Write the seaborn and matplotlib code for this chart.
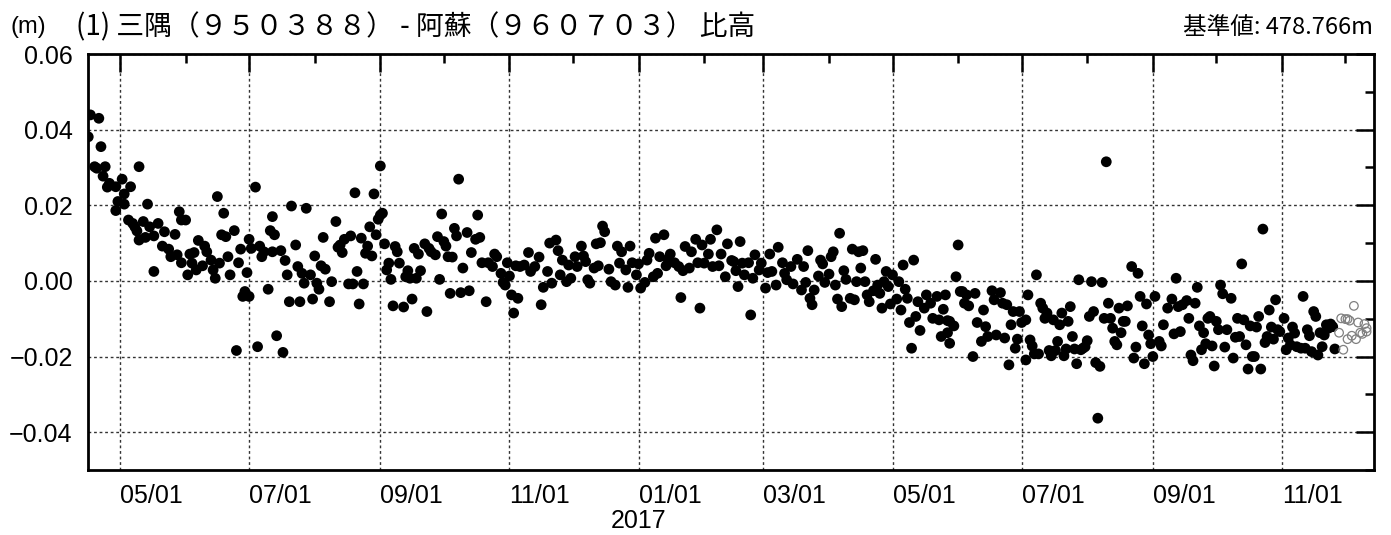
import numpy as np
import pandas as pd
import matplotlib
matplotlib.use("Agg")
import matplotlib.pyplot as plt
from matplotlib.ticker import MultipleLocator, FuncFormatter
from matplotlib.transforms import blended_transform_factory
import seaborn as sns

# ---------------- data ----------------
START = "2016-04-16"          # day 0 of the series

# daily solutions (filled dots): day offset from START, value in metres
filled_day = [
    0, 1, 5, 6, 3, 4, 8, 7, 10, 9, 13, 16, 17, 20, 24, 14, 17, 13, 28, 19,
    21, 22, 26, 23, 24, 27, 29, 31, 33, 31, 35, 36, 38, 39, 41, 42, 43, 44, 46, 44,
    47, 48, 50, 49, 52, 51, 54, 55, 56, 58, 59, 60, 61, 62, 64, 63, 65, 66, 67, 69,
    70, 71, 72, 73, 74, 75, 76, 76, 77, 79, 80, 81, 82, 83, 85, 86, 87, 88, 87, 89,
    91, 92, 93, 94, 95, 96, 98, 99, 100, 101, 102, 103,
    105, 106, 107, 108, 109, 110, 111, 112, 114, 115, 117, 118, 119, 120, 121, 123, 124, 125, 126, 127,
    128, 129, 130, 131, 132, 133, 134, 135, 136, 137, 138, 138, 139, 140, 141, 142, 143, 144, 145, 146,
    147, 149, 150, 151, 152, 153, 154, 155, 156, 157, 159, 160, 161, 162, 164, 165, 166, 167, 168, 169,
    170, 171, 172, 173, 174, 175, 176, 177, 179, 180, 181, 183, 184, 185, 186, 188, 189, 191, 192, 193,
    195, 196, 197, 198, 199, 200, 201, 202, 203,
    204, 206, 208, 209, 211, 213, 214, 215, 217, 218, 219, 221, 222, 223, 224, 226, 227, 228, 230, 231,
    233, 234, 235, 236, 237, 239, 240, 241, 242, 243, 244, 246, 247, 249, 250, 251, 252, 254, 255, 256,
    257, 259, 260, 261, 263, 264, 265, 267, 268, 269, 270, 272, 273, 274, 275, 277, 279, 280, 281, 282,
    284, 285, 287, 288, 289, 290, 291, 293, 294, 295, 297, 298, 299, 301, 302, 304,
    305, 306, 307, 308, 309, 310, 312, 313, 314, 315, 317, 318, 320, 321, 322, 323, 325, 326, 328, 329,
    330, 332, 333, 335, 337, 338, 339, 340, 341, 342, 343, 345, 346, 347, 348, 350, 351, 352, 353, 354,
    355, 356, 357, 358, 360, 361, 362, 363, 364, 365, 366, 367, 368, 369, 371, 372, 373, 374, 375, 376,
    377, 378, 379, 380, 382, 383, 384, 385, 386, 387, 388, 389, 390, 391, 392, 393, 395, 396, 398, 399,
    401, 402, 403, 404, 405, 406, 407,
    407, 406, 409, 410, 411, 412, 413, 414, 415, 416, 418, 419, 420, 422, 423, 424, 425, 427, 428, 429,
    431, 432, 433, 434, 435, 436, 437, 438, 439, 440, 441, 443, 443, 444, 445, 446, 447, 448, 449, 450,
    451, 452, 453, 454, 455, 456, 457, 458, 459, 460, 461, 462, 463, 464, 465, 466, 467, 468, 469, 470,
    471, 472, 473, 474, 475, 476, 477, 478, 479, 480, 481, 482, 483, 484, 485, 486, 487, 488, 489, 490,
    491, 493, 494, 495, 496, 497, 498, 499, 500, 501, 502, 503, 504, 506, 507, 508,
    510, 512, 513, 514, 515, 516, 517, 519, 520, 521, 522, 523, 524, 525, 526, 527, 528, 529, 530, 531,
    532, 533, 534, 535, 536, 537, 538, 540, 541, 542, 543, 544, 545, 546, 547, 548, 549, 550, 551, 552,
    553, 554, 555, 556, 557, 558, 559, 560, 561, 562, 563, 565, 566, 567, 568, 569, 570, 571, 573, 574,
    575, 576, 577, 578, 579, 580, 581, 582, 583, 584, 585, 586, 587, 588, 589,
]
filled_val = [
    0.0381, 0.0439, 0.0430, 0.0355, 0.0302, 0.0298, 0.0302, 0.0277, 0.0258, 0.0248,
    0.0249, 0.0269, 0.0230, 0.0249, 0.0302, 0.0210, 0.0203, 0.0186, 0.0203, 0.0161,
    0.0152, 0.0143, 0.0157, 0.0132, 0.0108, 0.0115, 0.0143, 0.0119, 0.0152, 0.0025,
    0.0092, 0.0130, 0.0084, 0.0064, 0.0123, 0.0069, 0.0183, 0.0161, 0.0161, 0.0048,
    0.0016, 0.0071, 0.0075, 0.0047, 0.0107, 0.0029, 0.0040, 0.0092, 0.0077, 0.0055,
    0.0029, 0.0007, 0.0223, 0.0047, 0.0179, 0.0122, 0.0117, 0.0064, 0.0016, 0.0133,
    -0.0184, 0.0048, 0.0084, -0.0041, -0.0028, 0.0022, 0.0110, -0.0041, 0.0086, 0.0248,
    -0.0174, 0.0092, 0.0064, 0.0077, -0.0022, 0.0133, 0.0170, 0.0122, 0.0077, -0.0145,
    0.0080, -0.0189, 0.0054, 0.0016, -0.0055, 0.0198, 0.0095, 0.0038, -0.0055, 0.0020,
    -0.0006, 0.0192,
    0.0016, -0.0048, 0.0066, -0.0006, -0.0022, 0.0040, 0.0115, 0.0031, -0.0055, -0.0002,
    0.0157, 0.0089, 0.0095, 0.0075, 0.0110, -0.0008, 0.0119, -0.0008, 0.0233, 0.0025,
    -0.0061, 0.0113, -0.0008, 0.0073, 0.0092, 0.0143, 0.0066, 0.0230, 0.0122, 0.0163,
    0.0304, 0.0174, 0.0179, 0.0098, 0.0029, 0.0047, 0.0004, -0.0066, 0.0091, 0.0077,
    0.0047, -0.0069, 0.0011, 0.0027, 0.0007, -0.0048, 0.0086, 0.0007, 0.0071, 0.0027,
    0.0098, -0.0081, 0.0086, 0.0077, 0.0069, 0.0117, 0.0004, 0.0177, 0.0104, 0.0092,
    0.0064, -0.0033, 0.0063, 0.0139, 0.0119, 0.0269, -0.0031, 0.0034, 0.0128, -0.0026,
    0.0075, 0.0110, 0.0174, 0.0115, 0.0048, -0.0055, 0.0048, 0.0038, 0.0071, 0.0064,
    0.0020, -0.0004, -0.0011, 0.0048, 0.0013, -0.0037, -0.0085, 0.0040, -0.0046,
    0.0038, 0.0042, 0.0075, 0.0025, 0.0038, 0.0063, -0.0063, -0.0017, 0.0025, 0.0100,
    -0.0006, 0.0108, 0.0080, 0.0016, 0.0055, -0.0002, 0.0042, 0.0007, 0.0064, 0.0038,
    0.0092, 0.0066, 0.0051, 0.0003, -0.0006, 0.0034, 0.0098, 0.0040, 0.0101, 0.0145,
    0.0130, 0.0031, -0.0002, -0.0011, 0.0092, 0.0047, 0.0077, 0.0029, -0.0017, 0.0092,
    0.0048, 0.0016, 0.0045, -0.0019, -0.0004, 0.0055, 0.0073, 0.0011, 0.0113, 0.0020,
    0.0064, 0.0122, 0.0040, 0.0057, 0.0071, 0.0048, 0.0038, -0.0044, 0.0027, 0.0091,
    0.0034, 0.0077, 0.0110, 0.0048, -0.0072, 0.0095, 0.0047, 0.0071, 0.0110, 0.0038,
    0.0135, 0.0040, 0.0071, 0.0011, 0.0098, 0.0054,
    0.0051, 0.0027, -0.0015, 0.0104, 0.0047, 0.0016, 0.0048, -0.0090, 0.0007, 0.0069,
    0.0029, 0.0047, -0.0019, 0.0022, 0.0071, 0.0025, -0.0011, 0.0089, 0.0048, 0.0020,
    0.0003, 0.0038, -0.0008, 0.0057, -0.0024, 0.0038, -0.0004, 0.0080, -0.0046, -0.0063,
    -0.0024, 0.0013, 0.0055, 0.0045, -0.0004, 0.0018, 0.0064, 0.0077, -0.0011, -0.0048,
    0.0126, -0.0068, 0.0027, 0.0004, -0.0046, 0.0084, -0.0050, -0.0002, 0.0077, 0.0034,
    0.0080, -0.0002, -0.0037, -0.0055, -0.0026, 0.0057, -0.0011, -0.0033, -0.0072, -0.0002,
    0.0025, -0.0015, -0.0061, 0.0016, -0.0048, -0.0002, -0.0077, 0.0042, -0.0022, -0.0046,
    -0.0110, -0.0178, 0.0055, -0.0094, -0.0055, -0.0131, -0.0072, -0.0037, -0.0059, -0.0099,
    -0.0041, -0.0103, -0.0147, -0.0075, -0.0037, -0.0105, -0.0165,
    -0.0107, -0.0137, -0.0119, 0.0011, 0.0095, -0.0028, -0.0028, -0.0059, -0.0037, -0.0066,
    -0.0200, -0.0033, -0.0110, -0.0160, -0.0077, -0.0121, -0.0147, -0.0026, -0.0050, -0.0143,
    -0.0031, -0.0059, -0.0151, -0.0063, -0.0222, -0.0116, -0.0081, -0.0178, -0.0154, -0.0081,
    -0.0110, -0.0103, -0.0209, -0.0037, -0.0156, -0.0172, -0.0193, 0.0016, -0.0193, -0.0059,
    -0.0072, -0.0099, -0.0085, -0.0184, -0.0198, -0.0103, -0.0184, -0.0160, -0.0116, -0.0085,
    -0.0198, -0.0180, -0.0107, -0.0068, -0.0147, -0.0180, -0.0219, 0.0003, -0.0182, -0.0178,
    -0.0174, -0.0158, -0.0094, -0.0002, -0.0081, -0.0216, -0.0363, -0.0226, -0.0004, -0.0099,
    0.0315, -0.0059, -0.0099, -0.0125, -0.0160, -0.0169, -0.0072, -0.0137, -0.0107, -0.0107,
    -0.0066, 0.0038, -0.0204, -0.0175, 0.0020, -0.0041, -0.0119, -0.0219, -0.0061, -0.0143,
    -0.0166, -0.0200, -0.0041, -0.0160, -0.0172, -0.0116,
    -0.0072, -0.0048, -0.0140, 0.0007, -0.0068, -0.0134, -0.0063, -0.0052, -0.0099, -0.0196,
    -0.0211, -0.0059, -0.0017, -0.0119, -0.0182, -0.0137, -0.0166, -0.0099, -0.0094, -0.0172,
    -0.0225, -0.0107, -0.0129, -0.0011, -0.0034, -0.0175, -0.0129, -0.0046, -0.0204, -0.0149,
    -0.0099, -0.0147, 0.0045, -0.0103, -0.0169, -0.0233, -0.0119, -0.0200, -0.0200, -0.0122,
    -0.0094, -0.0233, 0.0137, -0.0163, -0.0147, -0.0077, -0.0122, -0.0154, -0.0050, -0.0129,
    -0.0134, -0.0099, -0.0182, -0.0151, -0.0169, -0.0122, -0.0138, -0.0174, -0.0178, -0.0041,
    -0.0178, -0.0129, -0.0145, -0.0187, -0.0081, -0.0094, -0.0196, -0.0137, -0.0174, -0.0143,
    -0.0116, -0.0125, -0.0114, -0.0121, -0.0180,
]

# rapid / preliminary solutions (open grey circles)
open_day = [591, 592, 593, 594, 595, 595, 596, 597, 598, 599, 600, 601, 602, 603, 604, 604]
open_val = [-0.0137, -0.0099, -0.0182, -0.0101, -0.0101, -0.0154, -0.0105, -0.0145,
            -0.0066, -0.0154, -0.0110, -0.0137, -0.0140, -0.0114, -0.0125, -0.0134]

x_tick_dates = ["2016-05-01", "2016-07-01", "2016-09-01", "2016-11-01", "2017-01-01",
                "2017-03-01", "2017-05-01", "2017-07-01", "2017-09-01", "2017-11-01"]
x_tick_labels = ["05/01", "07/01", "09/01", "11/01", "01/01",
                 "03/01", "05/01", "07/01", "09/01", "11/01"]
year_label = "2017"
year_label_date = "2017-01-01"
x_limits = ("2016-04-15 21:00", "2017-12-14 12:00")
y_limits = (-0.05, 0.06)

unit_text = "(m)"
title_text = "(1) 三隅（９５０３８８） - 阿蘇（９６０７０３） 比高"
ref_text = "基準値: 478.766m"

# ---------------- plotting ----------------
sns.set_theme(style="white")
plt.rcParams["font.family"] = ["Liberation Sans", "DejaVu Sans"]
plt.rcParams["axes.unicode_minus"] = True
CJK = ["Noto Sans CJK JP", "DejaVu Sans"]

W, H = 1391, 535
fig = plt.figure(figsize=(W / 100, H / 100), dpi=100)
ax = fig.add_axes([88 / W, 1 - 470 / H, (1374 - 88) / W, (470 - 54) / H])

start = pd.Timestamp(START)
df_f = pd.DataFrame({"date": start + pd.to_timedelta(filled_day, unit="D"),
                     "value": filled_val})
df_o = pd.DataFrame({"date": start + pd.to_timedelta(open_day, unit="D"),
                     "value": open_val})

sns.scatterplot(data=df_f, x="date", y="value", ax=ax, s=60, color="black",
                edgecolor="none", linewidth=0, zorder=3)
sns.scatterplot(data=df_o, x="date", y="value", ax=ax, s=38, color="none",
                edgecolor="#808080", linewidth=0.9, zorder=3)

ax.set_xlim(pd.Timestamp(x_limits[0]), pd.Timestamp(x_limits[1]))
ax.set_ylim(*y_limits)
ax.set_xlabel("")
ax.set_ylabel("")

ax.set_xticks(pd.to_datetime(x_tick_dates), labels=x_tick_labels, ha="left")
minor_dates = pd.date_range("2016-05-01", "2017-12-01", freq="MS")
ax.set_xticks(minor_dates, minor=True)

ax.yaxis.set_major_locator(MultipleLocator(0.02))
ax.yaxis.set_minor_locator(MultipleLocator(0.01))

def yfmt(v, pos):
    if abs(v) < 1e-9:
        v = 0.0
    return f"{v:.2f}".replace("-", "\u2212")

ax.yaxis.set_major_formatter(FuncFormatter(yfmt))

ax.tick_params(which="both", direction="in", top=True, right=True,
               width=1.8, color="black", labelsize=18, labelcolor="black")
ax.tick_params(which="major", length=13)
ax.tick_params(which="minor", length=6.5)
ax.tick_params(axis="x", which="both", pad=10)
ax.tick_params(axis="y", which="both", pad=11)

ax.grid(True, which="major", linestyle=(0, (2, 2)), linewidth=1.0, color="#333333")
ax.set_axisbelow(True)
for sp in ax.spines.values():
    sp.set_visible(True)
    sp.set_linewidth(2.0)
    sp.set_color("black")

trans = blended_transform_factory(ax.transData, fig.transFigure)
ax.text(pd.Timestamp(year_label_date), 0.003, year_label, transform=trans,
        ha="center", va="bottom", fontsize=18, color="black")

ty = 1 - 27 / H
fig.text(10 / W, ty, unit_text, ha="left", va="center", fontsize=17, color="black")
fig.text(76 / W, ty, title_text, ha="left", va="center", fontsize=20,
         family=CJK, color="black")
fig.text(1373 / W, ty, ref_text, ha="right", va="center", fontsize=17,
         family=CJK, color="black")

fig.savefig("out.png", dpi=100, facecolor="white")
